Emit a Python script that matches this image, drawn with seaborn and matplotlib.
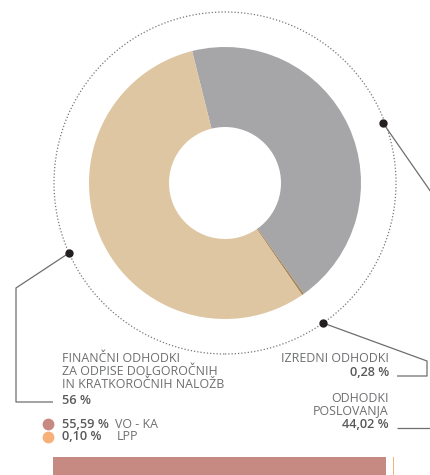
import matplotlib
matplotlib.use("Agg")
import matplotlib.pyplot as plt
import seaborn as sns

# --- Data ---
categories = ["ODHODKI\nPOSLOVANJA", "IZREDNI ODHODKI",
              "FINANČNI ODHODKI\nZA ODPISE DOLGOROČNIH\nIN KRATKOROČNIH NALOŽB"]
shares = [44.02, 0.28, 55.69]
share_labels = ["44,02 %", "0,28 %", "56 %"]
slice_colors = ["#a6a6a8", "#a88a60", "#dfc6a3"]

sub_labels = ["VO - KA", "LPP"]
sub_values = [55.59, 0.10]
sub_colors = ["#c68a82", "#f7b07a"]

# --- Styling ---
sns.set_theme(style="white")
plt.rcParams['font.family'] = ['Open Sans', 'DejaVu Sans']

W, H = 430, 475
fig = plt.figure(figsize=(W / 100, H / 100), dpi=100)
ax = fig.add_axes([0, 0, 1, 1])

cx, cy = 225, H - 183
ax.pie(shares, colors=slice_colors, startangle=104, counterclock=False,
       radius=136, center=(cx, cy), wedgeprops=dict(width=80, linewidth=0))

ax.set_xlim(0, W)
ax.set_ylim(0, H)
ax.set_aspect('equal')
ax.axis('off')

# dotted outer ring
ax.add_patch(plt.Circle((cx, cy), 171, fill=False, linestyle=(0, (1, 1.6)),
                        color="#77777a", linewidth=0.9))

line_kw = dict(color="#6d6e70", linewidth=0.9, solid_capstyle='butt')
dot_kw = dict(color="#231f20", markersize=5, marker='o', linestyle='none')

# left leader (financial)
ax.plot([69, 16, 16, 53], [H - 253, H - 288, H - 402, H - 402], **line_kw)
ax.plot([69], [H - 253], **dot_kw)
# right top leader (operating) - runs off the page, returns at bottom
ax.plot([383, 440], [H - 123, H - 205], **line_kw)
ax.plot([383], [H - 123], **dot_kw)
ax.plot([397, 430], [H - 428, H - 428], **line_kw)
# bottom leader (extraordinary)
ax.plot([323, 427, 427, 397], [H - 323, H - 361, H - 376, H - 376], **line_kw)
ax.plot([323], [H - 323], **dot_kw)

txt = "#6d6e70"
num = "#58595b"
fs = 8.9
fn = 9.2

# financial label
ax.text(62, H - 352, categories[2], ha='left', va='top', fontsize=fs,
        color=txt, linespacing=1.0)
ax.text(62, H - 400, share_labels[2], ha='left', va='center', fontsize=fn,
        color=num, fontweight='semibold')

# extraordinary label
ax.text(389, H - 359, categories[1], ha='right', va='center', fontsize=fs, color=txt)
ax.text(389, H - 373, share_labels[1], ha='right', va='center', fontsize=fn,
        color=num, fontweight='semibold')

# operating label
ax.text(389, H - 404.5, categories[0], ha='right', va='center', fontsize=fs,
        color=txt, linespacing=1.0)
ax.text(389, H - 424, share_labels[0], ha='right', va='center', fontsize=fn,
        color=num, fontweight='semibold')

# sub legend
label_x = [115, 117]
for i, (lab, val, col) in enumerate(zip(sub_labels, sub_values, sub_colors)):
    y = H - 424 - 13 * i
    ax.plot([48], [y], marker='o', markersize=7.5, color=col, linestyle='none')
    pct = f"{val:.2f}".replace('.', ',') + " %"
    ax.text(62, y, pct, ha='left', va='center', fontsize=fn,
            color=num, fontweight='semibold')
    ax.text(label_x[i], y, lab, ha='left', va='center', fontsize=fs, color=txt)

# stacked bar of the sub split (cut off at the bottom)
scale = 333 / sub_values[0]
ax.barh([H - 475 + 9], [sub_values[0] * scale], left=53, height=18,
        color=sub_colors[0], linewidth=0)
ax.barh([H - 475 + 9], [max(sub_values[1] * scale, 1.2)],
        left=53 + sub_values[0] * scale + 7, height=18,
        color=sub_colors[1], linewidth=0)

fig.savefig("out.png", dpi=100)
